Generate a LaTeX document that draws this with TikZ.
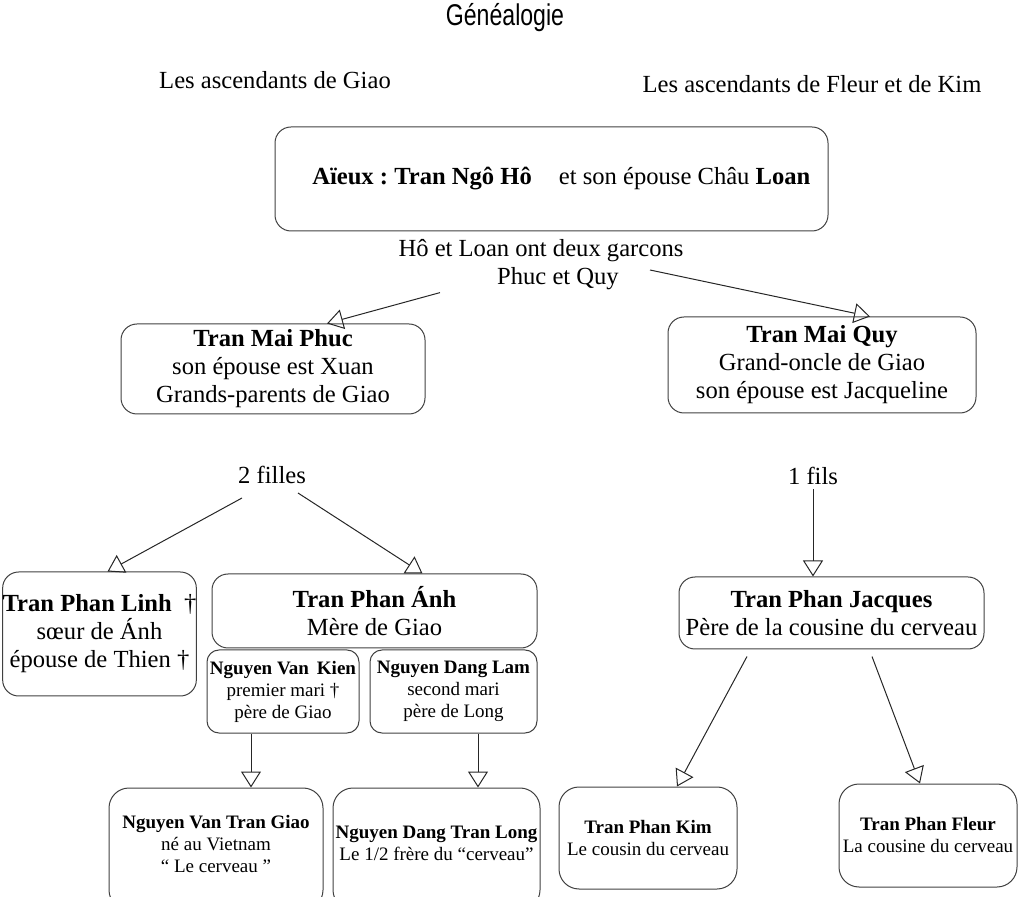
\documentclass[tikz,border=0pt]{standalone}
\usepackage{fontspec}
\usepackage{graphicx}
\setmainfont{Liberation Serif}
\newfontfamily\titlefont{Liberation Sans}
\usetikzlibrary{arrows.meta,calc}

\begin{document}
\begin{tikzpicture}[x=0.5pt, y=-0.5pt,
  person/.style={draw=black!75, line width=0.5pt, rounded corners=8pt, align=center,
                 inner sep=1pt, font=\fontsize{12.3}{14}\selectfont},
  small/.style={font=\fontsize{9.5}{11}\selectfont},
  caption/.style={align=center, inner sep=1pt, font=\fontsize{12.3}{14}\selectfont},
  descent/.style={-{Triangle[open,length=8pt,width=10pt]}, line width=0.5pt, black!85}
]
  \useasboundingbox (0,0) rectangle (1023,897);

  % Titles
  \node[font=\titlefont\fontsize{15}{17}\selectfont] (title) at (505,18)
    {\scalebox{0.77}[1]{Généalogie}};
  \node[caption] (ascG) at (275,80) {Les ascendants de Giao};
  \node[caption] (ascFK) at (812,84) {Les ascendants de Fleur et de Kim};

  % Ancestors
  \node[person, minimum width=276.5pt, minimum height=52pt] (aieux) at (551.5,179)
    {\frenchspacing\hspace{0.8em}\textbf{Aïeux : Tran Ngô Hô}\hspace{1.1em}et son épouse Châu \textbf{Loan}};
  \node[caption] (sons) at (541,265) {Hô et Loan ont deux garcons\\\hspace*{17pt}Phuc et Quy};

  % The two sons
  \node[person, minimum width=152pt, minimum height=45pt] (phuc) at (273,369)
    {\textbf{Tran Mai Phuc}\\son épouse est Xuan\\Grands-parents de Giao};
  \node[person, minimum width=154pt, minimum height=48pt] (quy) at (822,365)
    {\textbf{Tran Mai Quy}\\Grand-oncle de Giao\\son épouse est Jacqueline};

  \draw[descent] ($(sons.south)+(-101,0)$) -- ($(phuc.north)+(54,0)$);
  \draw[descent] ($(sons.center)+(109,5)$) -- ($(quy.north)+(48,0)$);

  % Phuc's side
  \node[caption] (daughters) at (272,475) {2 filles};
  \node[person, inner xsep=0pt, minimum width=94.5pt, minimum height=62pt] (linh) at (99.5,634)
    {\textbf{Tran Phan Linh}\hspace{0.5em}†\\sœur de Ánh\\épouse de Thien †};
  \node[person, minimum width=162.5pt, minimum height=37pt] (anh) at (374.5,611)
    {\textbf{Tran Phan Ánh}\\Mère de Giao};
  \node[person, small, minimum width=76pt, minimum height=41.5pt, rounded corners=6pt] (kien) at (283,691.5)
    {\textbf{Nguyen Van\, Kien}\\premier mari †\\père de Giao};
  \node[person, small, minimum width=83.5pt, minimum height=41.5pt, rounded corners=6pt] (lam) at (453.5,691.5)
    {\textbf{Nguyen Dang Lam}\\second mari\\père de Long};
  \node[person, small, minimum width=107pt, minimum height=61pt, rounded corners=10pt] (giao) at (216,849)
    {\textbf{Nguyen Van Tran Giao}\\né au Vietnam\\“ Le cerveau ”\\[-6pt]};
  \node[person, small, minimum width=103.5pt, minimum height=61pt, rounded corners=10pt] (long) at (436.5,849)
    {\textbf{Nguyen Dang Tran Long}\\Le 1/2 frère du “cerveau”\\[-5.5pt]};

  \draw[descent] ($(daughters.center)+(-30,23)$) -- ($(linh.north)+(8,0)$);
  \draw[descent] ($(daughters.center)+(26,18)$) -- ($(anh.north)+(48,0)$);
  \draw[descent] ($(kien.south)+(-32,0)$) -- ($(giao.north)+(35,0)$);
  \draw[descent] ($(lam.south)+(24.5,0)$) -- ($(long.north)+(41.5,0)$);

  % Quy's side
  \node[caption] (son) at (813,476) {1 fils};
  \node[person, minimum width=152.5pt, minimum height=36pt] (jacques) at (831.5,613)
    {\textbf{Tran Phan Jacques}\\Père de la cousine du cerveau};
  \node[person, small, minimum width=89pt, minimum height=51pt, rounded corners=10pt] (kim) at (648,838)
    {\textbf{Tran Phan Kim}\\Le cousin du cerveau};
  \node[person, small, minimum width=89pt, minimum height=51.5pt, rounded corners=10pt] (fleur) at (928,835.5)
    {\textbf{Tran Phan Fleur}\\La cousine du cerveau};

  \draw[descent] ($(son.south)+(0,2)$) -- ($(jacques.north)+(-18.5,0)$);
  \draw[descent] ($(jacques.south)+(-84.5,7)$) -- ($(kim.north)+(29,0)$);
  \draw[descent] ($(jacques.south)+(40.5,7)$) -- ($(fleur.north)+(-8,0)$);
\end{tikzpicture}
\end{document}
